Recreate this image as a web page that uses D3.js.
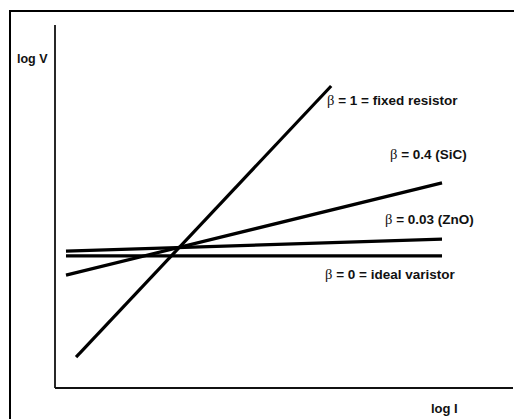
<!DOCTYPE html>
<html><head><meta charset="utf-8">
<script src="https://cdn.jsdelivr.net/npm/d3@7"></script>
<style>body{margin:0;background:#fff}svg{display:block}</style>
</head><body>
<svg id="c" width="514" height="419"></svg>
<script>
// Data (log I, log V in arbitrary units)
const seriesNames = ["β = 1 = fixed resistor", "β = 0.4 (SiC)", "β = 0.03 (ZnO)", "β = 0 = ideal varistor"];
const xStart = [0.46, 0.24, 0.24, 0.24];
const xEnd   = [6.03, 8.45, 8.45, 8.45];
const yStart = [0.85, 3.11, 3.77, 3.64];
const yEnd   = [8.32, 5.65, 4.10, 3.64];
const labelX = [327, 390, 385, 325];
const labelY = [105, 159, 224, 279];
const xTitle = "log I";
const yTitle = "log V";

const svg = d3.select("#c");
const x = d3.scaleLinear().domain([0, 10]).range([55, 513]);
const y = d3.scaleLinear().domain([0, 10]).range([388, 25]);

// outer frame (clipped by window)
svg.append("rect").attr("x", 10).attr("y", 11).attr("width", 600).attr("height", 600)
  .attr("fill", "none").attr("stroke", "#000").attr("stroke-width", 2);

// axes
svg.append("line").attr("x1", x(0)).attr("x2", x(0)).attr("y1", y(10)).attr("y2", y(0))
  .attr("stroke", "#111").attr("stroke-width", 1.8);
svg.append("line").attr("x1", x(0)).attr("x2", x(10)).attr("y1", y(0)).attr("y2", y(0))
  .attr("stroke", "#111").attr("stroke-width", 1.8);

const font = "Liberation Sans, Arial, Helvetica, sans-serif";
svg.append("text").attr("x", 17).attr("y", 63).attr("font-family", font)
  .attr("font-weight", "bold").attr("font-size", 12.5).attr("fill", "#111").text(yTitle);
svg.append("text").attr("x", 431).attr("y", 413).attr("font-family", font)
  .attr("font-weight", "bold").attr("font-size", 13).attr("fill", "#111").text(xTitle);

const line = d3.line().x(d => x(d[0])).y(d => y(d[1]));
seriesNames.forEach((n, i) => {
  svg.append("path").attr("d", line([[xStart[i], yStart[i]], [xEnd[i], yEnd[i]]]))
    .attr("stroke", "#000").attr("stroke-width", 3.2).attr("fill", "none");
  const t = svg.append("text").attr("x", labelX[i]).attr("y", labelY[i])
    .attr("font-family", font).attr("font-size", 13.5).attr("font-weight", "bold").attr("fill", "#111");
  const parts = n.split(/^β/);
  t.append("tspan").attr("font-family", "Liberation Serif, Times New Roman, serif")
    .attr("font-weight", "normal").attr("font-size", 14.5).text("β");
  t.append("tspan").text(parts[1]);
});
</script>
</body></html>
